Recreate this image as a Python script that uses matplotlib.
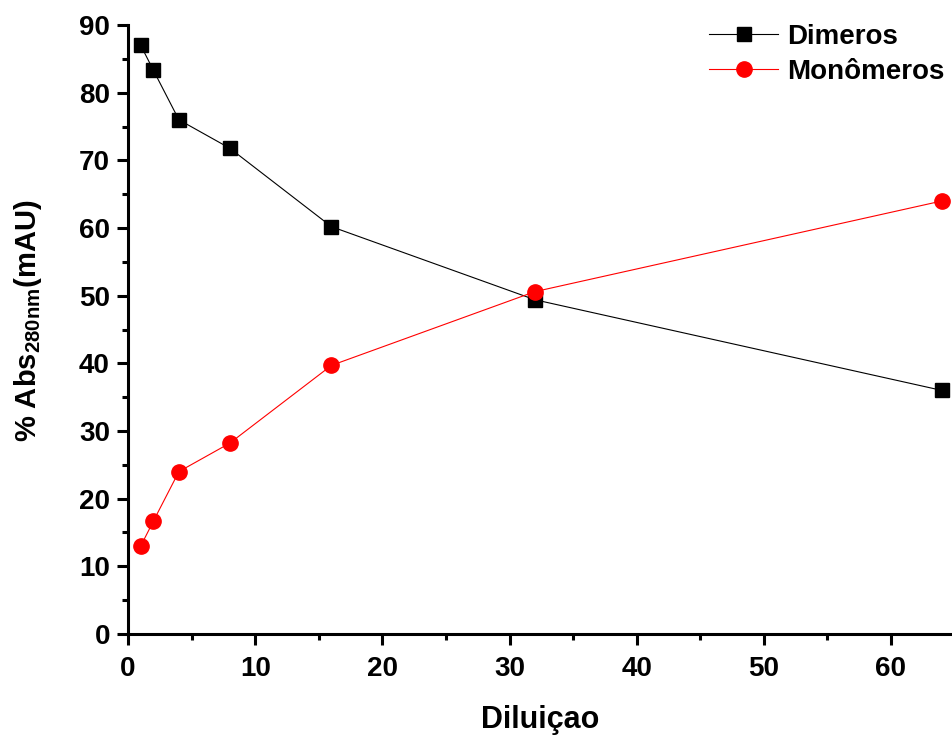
import matplotlib
matplotlib.use("Agg")
import matplotlib.pyplot as plt
from matplotlib.ticker import MultipleLocator

plt.rcParams['font.family'] = ['Liberation Sans', 'DejaVu Sans']
plt.rcParams['font.weight'] = 'bold'
plt.rcParams['mathtext.fontset'] = 'custom'
plt.rcParams['mathtext.bf'] = 'Liberation Sans:bold'
plt.rcParams['mathtext.rm'] = 'Liberation Sans:bold'

diluicao = [1, 2, 4, 8, 16, 32, 64]
dimeros = [87.0, 83.3, 76.0, 71.8, 60.2, 49.4, 36.0]
monomeros = [13.0, 16.7, 24.0, 28.2, 39.7, 50.6, 64.0]

fig = plt.figure(figsize=(9.52, 7.38), dpi=100)
ax = fig.add_axes([0.1345, 0.141, 0.8655, 0.825])

ax.plot(diluicao, dimeros, '-s', color='black', lw=0.8, ms=10, label='Dimeros')
ax.plot(diluicao, monomeros, '-o', color='red', mfc='red', mec='red', lw=0.8, ms=11, label='Monômeros')

ax.set_xlim(0, 64.8)
ax.set_ylim(0, 90)
ax.xaxis.set_major_locator(MultipleLocator(10))
ax.xaxis.set_minor_locator(MultipleLocator(5))
ax.yaxis.set_major_locator(MultipleLocator(10))
ax.yaxis.set_minor_locator(MultipleLocator(5))

for s in ['top', 'right']:
    ax.spines[s].set_visible(False)
for s in ['left', 'bottom']:
    ax.spines[s].set_linewidth(2.2)
ax.tick_params(which='major', direction='out', length=8, width=2.2, labelsize=20, pad=5)
ax.tick_params(axis='x', which='major', pad=8)
ax.tick_params(which='minor', direction='out', length=4.5, width=2.2)
for lab in ax.get_xticklabels() + ax.get_yticklabels():
    lab.set_fontweight('bold')

ax.set_xlabel('Diluiçao', fontsize=22, fontweight='bold')
ax.xaxis.set_label_coords(0.5, -0.117)
ax.set_ylabel(r'% Abs$_{\mathbf{280nm}}$(mAU)', fontsize=21, fontweight='bold')
ax.yaxis.set_label_coords(-0.102, 0.515)

leg = ax.legend(loc='upper right', frameon=False, fontsize=20, handlelength=2.5,
                handletextpad=0.3, borderaxespad=0.0, bbox_to_anchor=(1.004, 1.02),
                labelspacing=0.33)
for t in leg.get_texts():
    t.set_fontweight('bold')

fig.savefig('out.png', dpi=100)
